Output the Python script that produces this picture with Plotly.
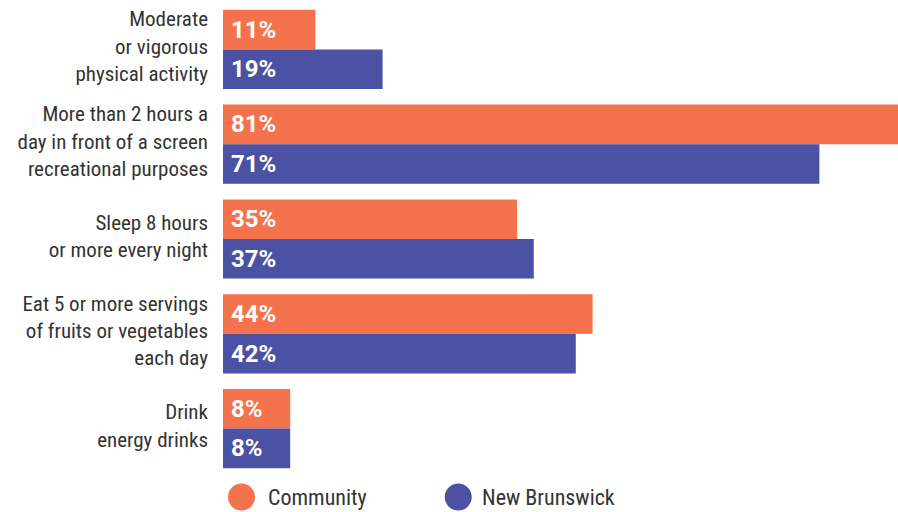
import plotly.graph_objects as go

categories = [
    "Moderate<br>or vigorous<br>physical activity",
    "More than 2 hours a<br>day in front of a screen<br>recreational purposes",
    "Sleep 8 hours<br>or more every night",
    "Eat 5 or more servings<br>of fruits or vegetables<br>each day",
    "Drink<br>energy drinks",
]
community = [11, 81, 35, 44, 8]
new_brunswick = [19, 71, 37, 42, 8]
series_names = ["Community", "New Brunswick"]
colors = ["#F4724C", "#4B52A3"]

FONT = "Roboto Condensed, Liberation Sans Narrow, Roboto, sans-serif"
LABEL_FONT = "Roboto, sans-serif"
TEXT = "#333333"

fig = go.Figure()
for name, vals, col in zip(series_names, [community, new_brunswick], colors):
    fig.add_trace(go.Bar(
        y=categories, x=vals, name=name, orientation="h",
        marker=dict(color=col, line=dict(width=0)),
        showlegend=False, hoverinfo="x+y",
    ))

# value labels inside bars at base
annotations = []
for vals, shift in [(community, 19.7), (new_brunswick, -19.7)]:
    for c, v in zip(categories, vals):
        annotations.append(dict(
            x=0, y=c, xref="x", yref="y", text=f"<b>{v}%</b>",
            showarrow=False, xanchor="left", yanchor="middle",
            xshift=6, yshift=shift,
            font=dict(family=LABEL_FONT, size=24, color="white"),
        ))

# legend (circles + labels) below the plot
shapes = []
leg_x_circle = [0.0274, 0.3485]
leg_x_text = [0.064, 0.380]
leg_y = -0.0445
for name, col, xc, xt in zip(series_names, colors, leg_x_circle, leg_x_text):
    shapes.append(dict(
        type="circle", xref="paper", yref="paper",
        xsizemode="pixel", ysizemode="pixel",
        xanchor=xc, yanchor=leg_y,
        x0=-13.5, x1=13.5, y0=-13.5, y1=13.5,
        fillcolor=col, line=dict(width=0),
    ))
    annotations.append(dict(
        x=xt, y=leg_y, xref="paper", yref="paper", text=name,
        showarrow=False, xanchor="left", yanchor="middle",
        font=dict(family=FONT, size=22, color=TEXT),
    ))

fig.update_layout(
    width=898, height=512,
    margin=dict(l=223, r=0, t=2, b=36),
    barmode="group", bargap=0.165, bargroupgap=0,
    plot_bgcolor="white", paper_bgcolor="white",
    font=dict(family=FONT, size=21, color=TEXT),
    xaxis=dict(range=[0, 80.36], visible=False, fixedrange=True),
    yaxis=dict(autorange="reversed", showgrid=False, zeroline=False,
               showline=False, ticks="", ticklabelstandoff=14,
               ticklabelshift=3, automargin=False,
               tickfont=dict(family=FONT, size=21, color=TEXT)),
    annotations=annotations, shapes=shapes,
    showlegend=False,
)

fig.write_html("out.html")
